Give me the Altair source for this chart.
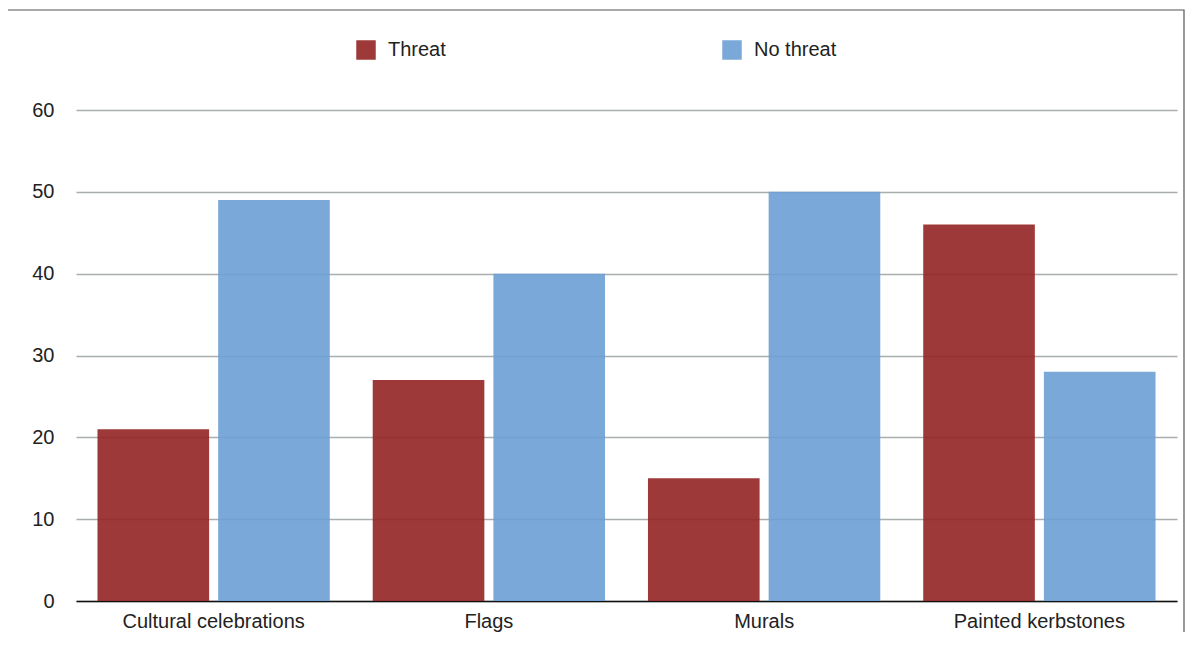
import altair as alt
import pandas as pd

categories = ["Cultural celebrations", "Flags", "Murals", "Painted kerbstones"]
series = ["Threat", "No threat"]
threat = [21, 27, 15, 46]
no_threat = [49, 40, 50, 28]
y_ticks = [0, 10, 20, 30, 40, 50, 60]
colors = ["#932324", "#6B9ED4"]

rows = []
for i, c in enumerate(categories):
    rows.append({"category": c, "series": series[0], "value": threat[i]})
    rows.append({"category": c, "series": series[1], "value": no_threat[i]})
df = pd.DataFrame(rows)

FONT = "Liberation Sans"
FS = 20

bars = alt.Chart(df).mark_bar(opacity=0.9).encode(
    x=alt.X("category:N", sort=categories,
            scale=alt.Scale(paddingInner=0.156, paddingOuter=0.078),
            axis=alt.Axis(title=None, labelAngle=0, labelFontSize=FS, labelFont=FONT,
                          labelColor="#222222", labelPadding=10, labelLimit=500, ticks=False,
                          domainColor="#111111", domainWidth=1.5, grid=False)),
    xOffset=alt.XOffset("series:N", sort=series, scale=alt.Scale(paddingInner=0.075)),
    y=alt.Y("value:Q", scale=alt.Scale(domain=[0, 60], nice=False),
            axis=alt.Axis(title=None, values=y_ticks, labelFontSize=FS, labelFont=FONT,
                          labelColor="#222222", labelPadding=22, ticks=False, domain=False,
                          grid=True, gridColor="#A9AEAE", gridWidth=1.6)),
    color=alt.Color("series:N", sort=series,
                    scale=alt.Scale(domain=series, range=colors),
                    legend=alt.Legend(title=None, orient="none", direction="horizontal",
                                      legendX=280, legendY=-70, symbolType="square",
                                      symbolSize=380, symbolStrokeWidth=0, symbolOpacity=0.9,
                                      labelFontSize=FS, labelFont=FONT, labelColor="#222222",
                                      labelOffset=12, columnPadding=276)),
)

frame = alt.Chart(alt.Data(values=[{}])).mark_rect(
    filled=False, stroke="#555555", strokeWidth=1.2
).encode(
    x=alt.value(-69), x2=alt.value(1108), y=alt.value(-100), y2=alt.value(600)
)

chart = alt.layer(frame, bars).properties(
    width=1101, height=491,
    autosize=alt.AutoSizeParams(type="none"),
    padding={"left": 68, "top": 102, "right": 9, "bottom": 31},
).configure_view(strokeOpacity=0)

chart.save("out.html", embed_options={"renderer": "svg", "actions": False})
